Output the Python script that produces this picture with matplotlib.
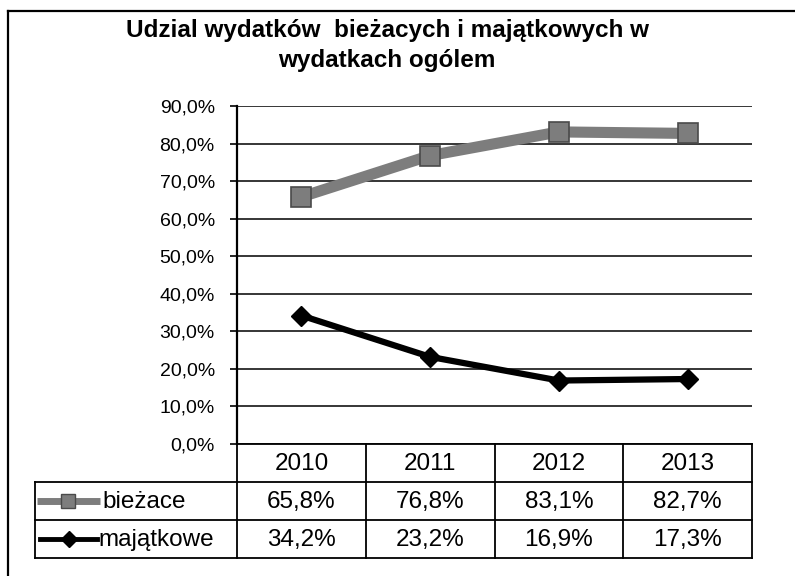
import matplotlib
matplotlib.use("Agg")
import matplotlib.pyplot as plt
from matplotlib.lines import Line2D

plt.rcParams['font.family'] = ['Liberation Sans', 'DejaVu Sans']

# --- data -------------------------------------------------------------
years = ["2010", "2011", "2012", "2013"]
biezace = [65.8, 76.8, 83.1, 82.7]
majatkowe = [34.2, 23.2, 16.9, 17.3]
series_names = ["bieżace", "majątkowe"]
y_ticks = [0, 10, 20, 30, 40, 50, 60, 70, 80, 90]
title = "Udzial wydatków  bieżacych i majątkowych w\nwydatkach ogólem"

W, H = 795, 576
fig = plt.figure(figsize=(W / 100, H / 100), dpi=100)
fig.patch.set_facecolor("white")


def fx(px):
    return px / W


def fy(py):
    return 1 - py / H


# outer chart frame (left and top edges)
fig.add_artist(Line2D([fx(8), fx(8)], [fy(11), fy(576)], color="black", lw=1.6,
                      transform=fig.transFigure))
fig.add_artist(Line2D([fx(8), fx(795)], [fy(11), fy(11)], color="black", lw=1.6,
                      transform=fig.transFigure))

fig.text(fx(387), fy(19), title, ha="center", va="top", fontsize=17.5,
         fontweight="bold", linespacing=1.4)

# --- plot area --------------------------------------------------------
left, right, top, bottom = 237, 752, 106, 444
ax = fig.add_axes([fx(left), fy(bottom), fx(right - left), (bottom - top) / H])
x = list(range(len(years)))
ax.set_xlim(-0.5, len(years) - 0.5)
ax.set_ylim(0, 90)

gray = "#7d7d7d"
ax.plot(x, biezace, color=gray, lw=8, marker="s", markersize=14,
        markerfacecolor=gray, markeredgecolor="#4a4a4a", markeredgewidth=1.2,
        solid_capstyle="butt", zorder=3, clip_on=False)
ax.plot(x, majatkowe, color="black", lw=4.5, marker="D", markersize=10,
        markerfacecolor="black", markeredgecolor="black", zorder=3, clip_on=False)

ax.set_yticks(y_ticks)
ax.set_yticklabels([f"{v:.1f}%".replace(".", ",") for v in y_ticks], fontsize=14)
ax.yaxis.grid(True, color="black", lw=1.1)
ax.set_axisbelow(True)
ax.set_xticks([])
ax.tick_params(axis="y", direction="out", length=5, width=1.2, pad=11, colors="black")
for s in ["top", "right", "bottom"]:
    ax.spines[s].set_visible(False)
ax.spines["left"].set_linewidth(1.6)

# --- data table -------------------------------------------------------
tab_left, tab_top, tab_bottom = 35, 444, 558
col_w = (right - left) / len(years)
x_min = -0.5 - (left - tab_left) / col_w
tab = fig.add_axes([fx(tab_left), fy(tab_bottom), fx(right - tab_left),
                    (tab_bottom - tab_top) / H])
tab.set_xlim(x_min, len(years) - 0.5)
tab.set_ylim(3, 0)
tab.axis("off")

lc = dict(color="black", lw=1.3, clip_on=False)
tab.plot([-0.5, len(years) - 0.5], [0, 0], **lc)
for r in (1, 2, 3):
    tab.plot([x_min, len(years) - 0.5], [r, r], **lc)
tab.plot([x_min, x_min], [1, 3], **lc)
for c in range(len(years) + 1):
    tab.plot([c - 0.5, c - 0.5], [0, 3], **lc)

fs = 17.5
for i, yr in enumerate(years):
    tab.text(i, 0.52, yr, ha="center", va="center", fontsize=fs)
for row, vals in ((1, biezace), (2, majatkowe)):
    for i, v in enumerate(vals):
        tab.text(i, row + 0.52, f"{v:.1f}%".replace(".", ","), ha="center",
                 va="center", fontsize=fs)

# legend keys inside the row labels
k0 = x_min + (37 - tab_left) / col_w
k1 = x_min + (100 - tab_left) / col_w
km = (k0 + k1) / 2
tab.plot([k0, k1], [1.5, 1.5], color=gray, lw=5, solid_capstyle="butt")
tab.plot([km], [1.5], marker="s", markersize=10, color=gray,
         markeredgecolor="#4a4a4a")
tab.text(x_min + (102 - tab_left) / col_w, 1.52, series_names[0], ha="left",
         va="center", fontsize=fs)

k0b = x_min + (40 - tab_left) / col_w
k1b = x_min + (97 - tab_left) / col_w
tab.plot([k0b, k1b], [2.5, 2.5], color="black", lw=3.5)
tab.plot([(k0b + k1b) / 2], [2.5], marker="D", markersize=8, color="black")
tab.text(x_min + (98 - tab_left) / col_w, 2.52, series_names[1], ha="left",
         va="center", fontsize=fs)

fig.savefig("out.png", dpi=100, facecolor="white")
